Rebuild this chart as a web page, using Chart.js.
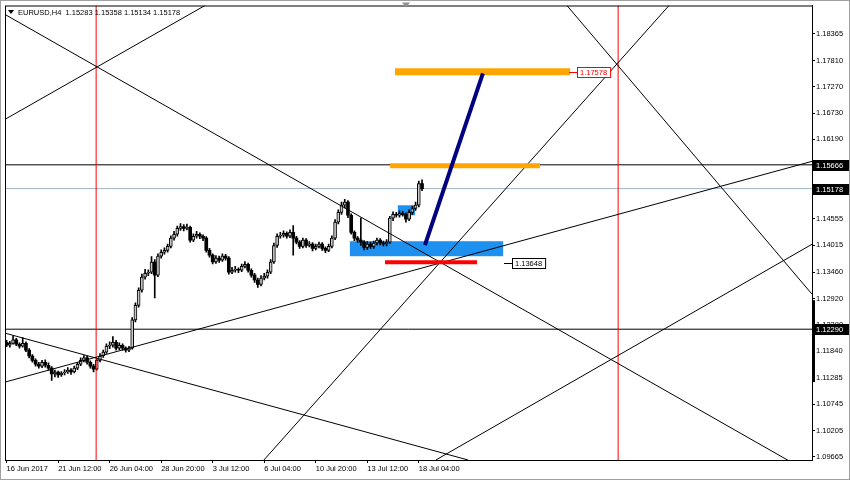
<!DOCTYPE html>
<html>
<head>
<meta charset="utf-8">
<script src="https://cdn.jsdelivr.net/npm/chart.js@4.4.1/dist/chart.umd.min.js"></script>
<style>
html, body { margin: 0; padding: 0; background: #fff; }
#wrap { width: 850px; height: 480px; }
</style>
</head>
<body>
<div id="wrap"><canvas id="eurusdChart" width="850" height="480"></canvas></div>
<script>
// EURUSD H4, one bar = 4 hours, bar 0 = 16 Jun 2017
var opens = [
    1.1202, 1.1196, 1.1200, 1.1207, 1.1198, 1.1194, 1.1200, 1.1186, 1.1174, 1.1165,
    1.1157, 1.1153, 1.1161, 1.1155, 1.1149, 1.1137, 1.1141, 1.1135, 1.1139, 1.1141,
    1.1145, 1.1141, 1.1149, 1.1157, 1.1165, 1.1170, 1.1161, 1.1153, 1.1147, 1.1165,
    1.1174, 1.1182, 1.1194, 1.1196, 1.1202, 1.1190, 1.1196, 1.1190, 1.1186, 1.1190,
    1.1248, 1.1278, 1.1309, 1.1336, 1.1344, 1.1346, 1.1367, 1.1340, 1.1379, 1.1387,
    1.1391, 1.1399, 1.1416, 1.1424, 1.1436, 1.1440, 1.1436, 1.1438, 1.1412, 1.1420,
    1.1424, 1.1420, 1.1416, 1.1391, 1.1381, 1.1367, 1.1375, 1.1371, 1.1379, 1.1375,
    1.1346, 1.1350, 1.1352, 1.1350, 1.1358, 1.1362, 1.1350, 1.1340, 1.1330, 1.1321,
    1.1334, 1.1338, 1.1346, 1.1367, 1.1401, 1.1420, 1.1422, 1.1426, 1.1420, 1.1428,
    1.1416, 1.1408, 1.1399, 1.1412, 1.1401, 1.1404, 1.1395, 1.1399, 1.1404, 1.1395,
    1.1391, 1.1399, 1.1416, 1.1449, 1.1469, 1.1484, 1.1490, 1.1463, 1.1428, 1.1416,
    1.1412, 1.1408, 1.1397, 1.1404, 1.1399, 1.1406, 1.1412, 1.1406, 1.1404, 1.1408,
    1.1457, 1.1465, 1.1463, 1.1467, 1.1465, 1.1455, 1.1469, 1.1477, 1.1484, 1.15283
];
var highs = [
    1.1206, 1.1204, 1.1215, 1.1210, 1.1201, 1.1212, 1.1203, 1.1189, 1.1177, 1.1168,
    1.1161, 1.1165, 1.1166, 1.1160, 1.1152, 1.1145, 1.1143, 1.1142, 1.1146, 1.1150,
    1.1148, 1.1153, 1.1161, 1.1170, 1.1175, 1.1173, 1.1164, 1.1157, 1.1169, 1.1179,
    1.1186, 1.1199, 1.1203, 1.1214, 1.1206, 1.1201, 1.1199, 1.1193, 1.1194, 1.1253,
    1.1283, 1.1314, 1.1342, 1.1352, 1.1351, 1.1378, 1.1372, 1.1384, 1.1392, 1.1396,
    1.1404, 1.1421, 1.1430, 1.1441, 1.1446, 1.1444, 1.1445, 1.1441, 1.1425, 1.1430,
    1.1427, 1.1423, 1.1419, 1.1395, 1.1384, 1.1380, 1.1379, 1.1384, 1.1383, 1.1378,
    1.1356, 1.1358, 1.1355, 1.1363, 1.1368, 1.1365, 1.1353, 1.1344, 1.1334, 1.1339,
    1.1344, 1.1351, 1.1372, 1.1406, 1.1425, 1.1428, 1.1431, 1.1429, 1.1433, 1.1442,
    1.1420, 1.1411, 1.1416, 1.1415, 1.1409, 1.1407, 1.1404, 1.1408, 1.1407, 1.1398,
    1.1404, 1.1421, 1.1454, 1.1474, 1.1490, 1.1496, 1.1493, 1.1466, 1.1431, 1.1419,
    1.1457, 1.1411, 1.1409, 1.1408, 1.1410, 1.1416, 1.1415, 1.1410, 1.1413, 1.1461,
    1.1470, 1.1469, 1.1472, 1.1471, 1.1468, 1.1474, 1.1482, 1.1490, 1.1533, 1.15358
];
var lows = [
    1.1193, 1.1192, 1.1198, 1.1195, 1.1190, 1.1192, 1.1183, 1.1170, 1.1161, 1.1153,
    1.1149, 1.1150, 1.1151, 1.1145, 1.1124, 1.1131, 1.1130, 1.1132, 1.1135, 1.1138,
    1.1136, 1.1139, 1.1146, 1.1154, 1.1162, 1.1157, 1.1149, 1.1141, 1.1145, 1.1162,
    1.1171, 1.1179, 1.1189, 1.1192, 1.1186, 1.1187, 1.1186, 1.1182, 1.1183, 1.1188,
    1.1244, 1.1274, 1.1305, 1.1332, 1.1339, 1.1343, 1.1293, 1.1337, 1.1375, 1.1383,
    1.1387, 1.1396, 1.1412, 1.1420, 1.1432, 1.1431, 1.1433, 1.1408, 1.1409, 1.1416,
    1.1415, 1.1411, 1.1387, 1.1377, 1.1363, 1.1364, 1.1366, 1.1368, 1.1371, 1.1342,
    1.1343, 1.1346, 1.1345, 1.1347, 1.1355, 1.1346, 1.1336, 1.1325, 1.1315, 1.1318,
    1.1330, 1.1334, 1.1343, 1.1364, 1.1397, 1.1416, 1.1418, 1.1416, 1.1417, 1.1381,
    1.1404, 1.1395, 1.1396, 1.1397, 1.1398, 1.1390, 1.1392, 1.1396, 1.1391, 1.1386,
    1.1388, 1.1396, 1.1413, 1.1445, 1.1465, 1.1478, 1.1458, 1.1424, 1.1411, 1.1407,
    1.1401, 1.1392, 1.1393, 1.1395, 1.1395, 1.1402, 1.1402, 1.1400, 1.1400, 1.1405,
    1.1452, 1.1459, 1.1459, 1.1461, 1.1449, 1.1452, 1.1465, 1.1473, 1.1480, 1.15134
];
var closes = [
    1.1196, 1.1200, 1.1207, 1.1198, 1.1194, 1.1200, 1.1186, 1.1174, 1.1165, 1.1157,
    1.1153, 1.1161, 1.1155, 1.1149, 1.1137, 1.1141, 1.1135, 1.1139, 1.1141, 1.1145,
    1.1141, 1.1149, 1.1157, 1.1165, 1.1170, 1.1161, 1.1153, 1.1147, 1.1165, 1.1174,
    1.1182, 1.1194, 1.1196, 1.1202, 1.1190, 1.1196, 1.1190, 1.1186, 1.1190, 1.1248,
    1.1278, 1.1309, 1.1336, 1.1344, 1.1346, 1.1367, 1.1340, 1.1379, 1.1387, 1.1391,
    1.1399, 1.1416, 1.1424, 1.1436, 1.1440, 1.1436, 1.1438, 1.1412, 1.1420, 1.1424,
    1.1420, 1.1416, 1.1391, 1.1381, 1.1367, 1.1375, 1.1371, 1.1379, 1.1375, 1.1346,
    1.1350, 1.1352, 1.1350, 1.1358, 1.1362, 1.1350, 1.1340, 1.1330, 1.1321, 1.1334,
    1.1338, 1.1346, 1.1367, 1.1401, 1.1420, 1.1422, 1.1426, 1.1420, 1.1428, 1.1416,
    1.1408, 1.1399, 1.1412, 1.1401, 1.1404, 1.1395, 1.1399, 1.1404, 1.1395, 1.1391,
    1.1399, 1.1416, 1.1449, 1.1469, 1.1484, 1.1490, 1.1463, 1.1428, 1.1416, 1.1412,
    1.1408, 1.1397, 1.1404, 1.1399, 1.1406, 1.1412, 1.1406, 1.1404, 1.1408, 1.1457,
    1.1465, 1.1463, 1.1467, 1.1465, 1.1455, 1.1469, 1.1477, 1.1484, 1.1528, 1.15178
];

var timeTickBars = [0, 16, 32, 48, 64, 80, 96, 112, 128];
var timeLabels = ['16 Jun 2017', '21 Jun 12:00', '26 Jun 04:00', '28 Jun 20:00', '3 Jul 12:00',
                  '6 Jul 04:00', '10 Jul 20:00', '13 Jul 12:00', '18 Jul 04:00'];
var priceTicks = [1.18365, 1.17810, 1.17270, 1.16730, 1.16190, 1.15650, 1.15110, 1.14555, 1.14015,
                  1.13460, 1.12920, 1.12380, 1.11840, 1.11285, 1.10745, 1.10205, 1.09665];

// objects drawn on the chart: [bar, price, bar, price]
var trendLines = [
    [-0.5, 1.18755, 250.1, 1.09316],
    [-0.5, 1.16600, 61.6, 1.18939],
    [-0.5, 1.12209, 143.3, 1.09603],
    [-0.5, 1.11203, 250.1, 1.15738],
    [79.9, 1.09603, 205.7, 1.18939],
    [174.0, 1.18939, 250.1, 1.13009],
    [133.3, 1.09603, 250.1, 1.14035]
];
var redVerticalBars = [27.8, 189.9];
var hLevels = [1.15666, 1.12290];
var bidPrice = 1.15178;
// [bar from, bar to, price]
var orangeLevels = [[120.6, 175.0, 1.17578], [119.1, 165.6, 1.15646]];
var redLevel = [117.5, 146.1, 1.13665];
var navyLine = [129.9, 1.14015, 147.9, 1.17544];
// [bar from, bar to, price top, price bottom]
var blueZones = [[106.6, 154.2, 1.14097, 1.13789], [121.5, 126.8, 1.14835, 1.14630]];
// [bar, price, text]
var priceTags = [[177.1, 1.17578, '1.17578', 'red'], [157.0, 1.13648, '1.13648', 'black']];
var axisBoxes = [1.15666, 1.15178, 1.12290];

var FONT = 'Liberation Sans';
var xMin = -0.5, xMax = 250.1, yMin = 1.09603, yMax = 1.18939;

function seg(x0, y0, x1, y1) {
    return [{ x: x0, y: y0 }, { x: x1, y: y1 }];
}

function isBull(i) {
    return closes[i] >= opens[i];
}

var datasets = [];

// candles: bodies above wicks
datasets.push({
    type: 'bar',
    order: 5,
    data: closes.map(function (c, i) { return { x: i, y: [opens[i], c] }; }),
    backgroundColor: function (ctx) { return isBull(ctx.dataIndex) ? '#c8c8c8' : '#000000'; },
    borderColor: '#000000',
    borderWidth: function (ctx) { return isBull(ctx.dataIndex) ? 1 : 0; },
    borderSkipped: false,
    barThickness: 3,
    minBarLength: 1,
    grouped: false
});
datasets.push({
    type: 'bar',
    order: 6,
    data: highs.map(function (h, i) { return { x: i, y: [lows[i], h] }; }),
    backgroundColor: '#000000',
    barThickness: 1,
    grouped: false,
    borderWidth: 0
});

trendLines.forEach(function (t) {
    datasets.push({
        type: 'line', order: 4, data: seg(t[0], t[1], t[2], t[3]),
        borderColor: '#000000', borderWidth: 1, pointRadius: 0, clip: 0
    });
});
redVerticalBars.forEach(function (b) {
    datasets.push({
        type: 'line', order: 4, data: seg(b, yMin, b, yMax),
        borderColor: '#ff0000', borderWidth: 1, pointRadius: 0, clip: 0
    });
});
hLevels.forEach(function (p) {
    datasets.push({
        type: 'line', order: 7, data: seg(xMin, p, xMax, p),
        borderColor: '#000000', borderWidth: 1, pointRadius: 0, clip: 0
    });
});
datasets.push({
    type: 'line', order: 7, data: seg(xMin, bidPrice, xMax, bidPrice),
    borderColor: '#9fb4c4', borderWidth: 1, pointRadius: 0, clip: 0
});
orangeLevels.forEach(function (o, k) {
    datasets.push({
        type: 'line', order: 2, data: seg(o[0], o[2], o[1], o[2]),
        borderColor: '#ffa500', borderWidth: k === 0 ? 7 : 5, borderCapStyle: 'butt',
        pointRadius: 0, clip: 0
    });
});
datasets.push({
    type: 'line', order: 2, data: seg(redLevel[0], redLevel[2], redLevel[1], redLevel[2]),
    borderColor: '#ff0000', borderWidth: 4, borderCapStyle: 'butt', pointRadius: 0, clip: 0
});
datasets.push({
    type: 'line', order: 1, data: seg(navyLine[0], navyLine[1], navyLine[2], navyLine[3]),
    borderColor: '#000080', borderWidth: 4, pointRadius: 0, clip: 0
});

var mtPlugin = {
    id: 'mtDrawings',
    beforeDraw: function (chart) {
        var c = chart.ctx;
        c.save();
        c.fillStyle = '#ffffff';
        c.fillRect(0, 0, chart.width, chart.height);
        c.restore();
    },
    beforeDatasetsDraw: function (chart) {
        var c = chart.ctx, xs = chart.scales.x, ys = chart.scales.y, a = chart.chartArea;
        c.save();
        c.beginPath();
        c.rect(a.left, a.top, a.right - a.left, a.bottom - a.top);
        c.clip();
        c.fillStyle = '#1e90f0';
        blueZones.forEach(function (z) {
            var x0 = xs.getPixelForValue(z[0]), x1 = xs.getPixelForValue(z[1]);
            var y0 = ys.getPixelForValue(z[2]), y1 = ys.getPixelForValue(z[3]);
            c.fillRect(x0, y0, x1 - x0, y1 - y0);
        });
        c.restore();
    },
    afterDraw: function (chart) {
        var c = chart.ctx, xs = chart.scales.x, ys = chart.scales.y, a = chart.chartArea;
        c.save();
        // frame
        c.strokeStyle = '#000000';
        c.lineWidth = 1;
        c.strokeRect(a.left + 0.5, a.top + 0.5, a.right - a.left, a.bottom - a.top);
        c.strokeStyle = '#a0a0a0';
        c.strokeRect(0.5, 0.5, chart.width - 1, chart.height - 1);

        // thick marker on the price scale
        c.fillStyle = '#000000';
        c.fillRect(a.right, ys.getPixelForValue(1.12886), 3, ys.getPixelForValue(1.11203) - ys.getPixelForValue(1.12886));

        // shift marker at the top
        c.fillStyle = '#909090';
        c.beginPath();
        c.moveTo(402, a.top - 3); c.lineTo(410, a.top - 3); c.lineTo(406, a.top + 2);
        c.closePath(); c.fill();

        c.font = '7.5px "' + FONT + '"';
        c.textBaseline = 'middle';

        // header
        c.fillStyle = '#000000';
        c.beginPath();
        c.moveTo(8, 10); c.lineTo(14, 10); c.lineTo(11, 14);
        c.closePath(); c.fill();
        c.fillText('EURUSD,H4  1.15283 1.15358 1.15134 1.15178', 18, 12.5);

        // price boxes on the axis
        axisBoxes.forEach(function (p) {
            var py = Math.round(ys.getPixelForValue(p));
            c.fillStyle = '#000000';
            c.fillRect(a.right + 1, py - 5, 36, 11);
            c.fillStyle = '#ffffff';
            c.fillText(p.toFixed(5), a.right + 4, py + 0.5);
        });

        // object price tags
        priceTags.forEach(function (t) {
            var px = Math.round(xs.getPixelForValue(t[0])), py = Math.round(ys.getPixelForValue(t[1]));
            var w = c.measureText(t[2]).width + 6;
            c.fillStyle = '#ffffff';
            c.fillRect(px, py - 5, w, 11);
            c.strokeStyle = t[3];
            c.strokeRect(px + 0.5, py - 4.5, w, 10);
            c.beginPath();
            c.moveTo(px - 8, py + 0.5); c.lineTo(px, py + 0.5); c.stroke();
            c.fillStyle = t[3];
            c.fillText(t[2], px + 3, py + 0.5);
        });
        c.restore();
    }
};

new Chart(document.getElementById('eurusdChart'), {
    type: 'line',
    data: { datasets: datasets },
    options: {
        responsive: false,
        animation: false,
        devicePixelRatio: 1,
        layout: { padding: { left: 5, top: 5, right: 0, bottom: 0 } },
        plugins: { legend: { display: false }, tooltip: { enabled: false } },
        scales: {
            x: {
                type: 'linear',
                position: 'bottom',
                min: xMin,
                max: xMax,
                offset: false,
                grid: { drawOnChartArea: false, tickLength: 3, color: '#000000', offset: false },
                border: { color: '#000000' },
                ticks: {
                    autoSkip: false, maxRotation: 0, align: 'start', padding: 1,
                    color: '#000000', font: { family: FONT, size: 7.5 },
                    callback: function (v) {
                        var k = timeTickBars.indexOf(v);
                        return k >= 0 ? timeLabels[k] : '';
                    }
                },
                afterBuildTicks: function (s) {
                    s.ticks = timeTickBars.map(function (v) { return { value: v }; });
                },
                afterFit: function (s) { s.height = 20; }
            },
            y: {
                type: 'linear',
                position: 'right',
                min: yMin,
                max: yMax,
                beginAtZero: false,
                grid: { drawOnChartArea: false, tickLength: 3, color: '#000000' },
                border: { color: '#000000' },
                ticks: {
                    padding: 1, color: '#000000', font: { family: FONT, size: 7.5 },
                    callback: function (v) { return v.toFixed(5); }
                },
                afterBuildTicks: function (s) {
                    s.ticks = priceTicks.map(function (v) { return { value: v }; });
                },
                afterFit: function (s) { s.width = 38; }
            }
        }
    },
    plugins: [mtPlugin]
});
</script>
</body>
</html>
